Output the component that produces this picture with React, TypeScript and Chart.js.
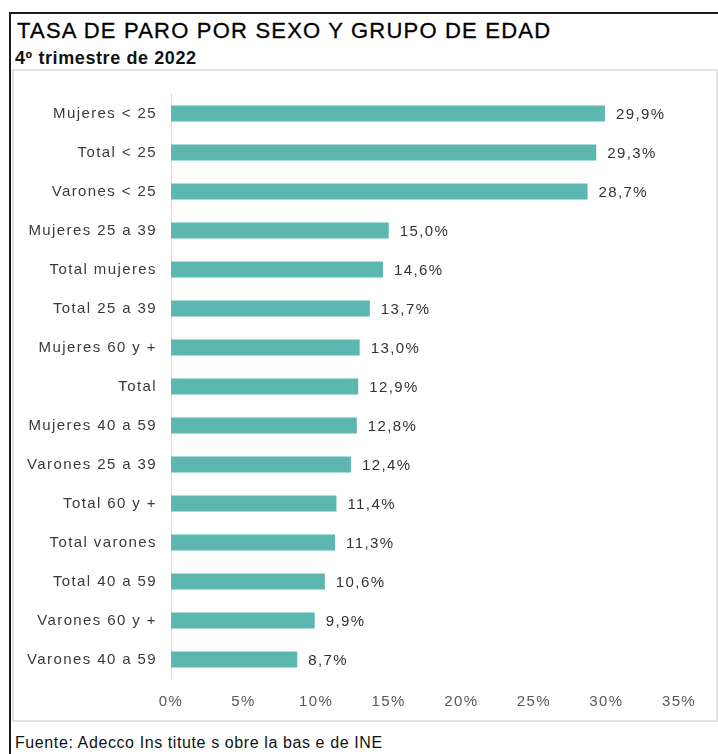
import React, { useEffect, useRef } from 'react';
import { Chart, registerables } from 'chart.js';

Chart.register(...registerables);

const categories = [
  'Mujeres < 25',
  'Total < 25',
  'Varones < 25',
  'Mujeres 25 a 39',
  'Total mujeres',
  'Total 25 a 39',
  'Mujeres 60 y +',
  'Total',
  'Mujeres 40 a 59',
  'Varones 25 a 39',
  'Total 60 y +',
  'Total varones',
  'Total 40 a 59',
  'Varones 60 y +',
  'Varones 40 a 59',
];
const rates = [29.9, 29.3, 28.7, 15.0, 14.6, 13.7, 13.0, 12.9, 12.8, 12.4, 11.4, 11.3, 10.6, 9.9, 8.7];
const xMin = 0;
const xMax = 35;
const xStep = 5;
const titleText = 'TASA DE PARO POR SEXO Y GRUPO DE EDAD';
const subtitleText = '4º trimestre de 2022';
const sourceText = 'Fuente: Adecco Ins titute s obre la bas e de INE';

const FONT = '"Liberation Sans", Arial, Helvetica, sans-serif';
const LS = '1.4px';
const fmt = (v: number) => v.toFixed(1).replace('.', ',') + '%';

const spacingPlugin = {
  id: 'spacing',
  beforeUpdate(chart: any) {
    chart.ctx.letterSpacing = LS;
  },
  beforeDraw(chart: any) {
    chart.ctx.letterSpacing = LS;
  },
};

const valueLabels = {
  id: 'valueLabels',
  afterDatasetsDraw(chart: any) {
    const ctx = chart.ctx;
    const meta = chart.getDatasetMeta(0);
    ctx.save();
    ctx.letterSpacing = LS;
    ctx.font = `15px ${FONT}`;
    ctx.fillStyle = '#333333';
    ctx.textAlign = 'left';
    ctx.textBaseline = 'middle';
    meta.data.forEach((bar: any, i: number) => {
      ctx.fillText(fmt(rates[i]), bar.x + 11, bar.y + 1);
    });
    ctx.restore();
  },
};

function BarChart() {
  const ref = useRef<HTMLCanvasElement | null>(null);
  useEffect(() => {
    if (!ref.current) return;
    const chart = new Chart(ref.current, {
      type: 'bar',
      data: {
        labels: categories,
        datasets: [
          {
            data: rates,
            backgroundColor: '#5BB7AF',
            borderWidth: 0,
            barPercentage: 0.41,
            categoryPercentage: 1,
          },
        ],
      },
      options: {
        indexAxis: 'y',
        animation: false,
        responsive: false,
        maintainAspectRatio: false,
        devicePixelRatio: 1,
        layout: { padding: { top: 22, bottom: 1, left: 0, right: 37 } },
        plugins: {
          legend: { display: false },
          tooltip: { enabled: false },
          title: { display: false },
        },
        scales: {
          x: {
            min: xMin,
            max: xMax,
            grid: { display: false, drawTicks: false },
            border: { display: false },
            ticks: {
              stepSize: xStep,
              padding: 14,
              color: '#595959',
              font: { family: FONT, size: 15 },
              callback: (v: any) => v + '%',
            },
            afterFit: (s: any) => {
              s.height = 40;
            },
          },
          y: {
            grid: { display: false, drawTicks: false },
            border: { display: true, color: '#d9d9d9', width: 1 },
            ticks: {
              padding: 14,
              color: '#3a3a3a',
              font: { family: FONT, size: 15 },
            },
            afterFit: (s: any) => {
              s.width = 158;
            },
          },
        },
      },
      plugins: [spacingPlugin, valueLabels],
    });
    return () => chart.destroy();
  }, []);
  return (
    <canvas
      ref={ref}
      width={703}
      height={649}
      style={{ position: 'absolute', left: 13, top: 71, width: 703, height: 649 }}
    />
  );
}

export default function App() {
  return (
    <div
      style={{
        position: 'fixed',
        left: 0,
        top: 0,
        width: 718,
        height: 754,
        overflow: 'hidden',
        background: '#ffffff',
        fontFamily: FONT,
      }}
    >
      <div
        style={{
          position: 'absolute',
          left: 9,
          top: 12,
          width: 800,
          height: 800,
          border: '2px solid #1a1a1a',
        }}
      />
      <div
        style={{
          position: 'absolute',
          left: 17,
          top: 20,
          fontSize: 22,
          lineHeight: '22px',
          letterSpacing: '1.2px',
          color: '#000000',
          whiteSpace: 'nowrap',
          WebkitTextStroke: '0.3px #000000',
        }}
      >
        {titleText}
      </div>
      <div
        style={{
          position: 'absolute',
          left: 15,
          top: 49,
          fontSize: 18,
          lineHeight: '18px',
          fontWeight: 'bold',
          letterSpacing: '0.6px',
          color: '#111111',
          whiteSpace: 'nowrap',
        }}
      >
        {subtitleText}
      </div>
      <div
        style={{
          position: 'absolute',
          left: 12,
          top: 69,
          width: 706,
          height: 653,
          boxSizing: 'border-box',
          border: '2px solid #e3e3e3',
        }}
      />
      <BarChart />
      <div
        style={{
          position: 'absolute',
          left: 15,
          top: 735,
          fontSize: 16,
          lineHeight: '16px',
          letterSpacing: '0.6px',
          color: '#111111',
          whiteSpace: 'nowrap',
        }}
      >
        {sourceText}
      </div>
    </div>
  );
}
